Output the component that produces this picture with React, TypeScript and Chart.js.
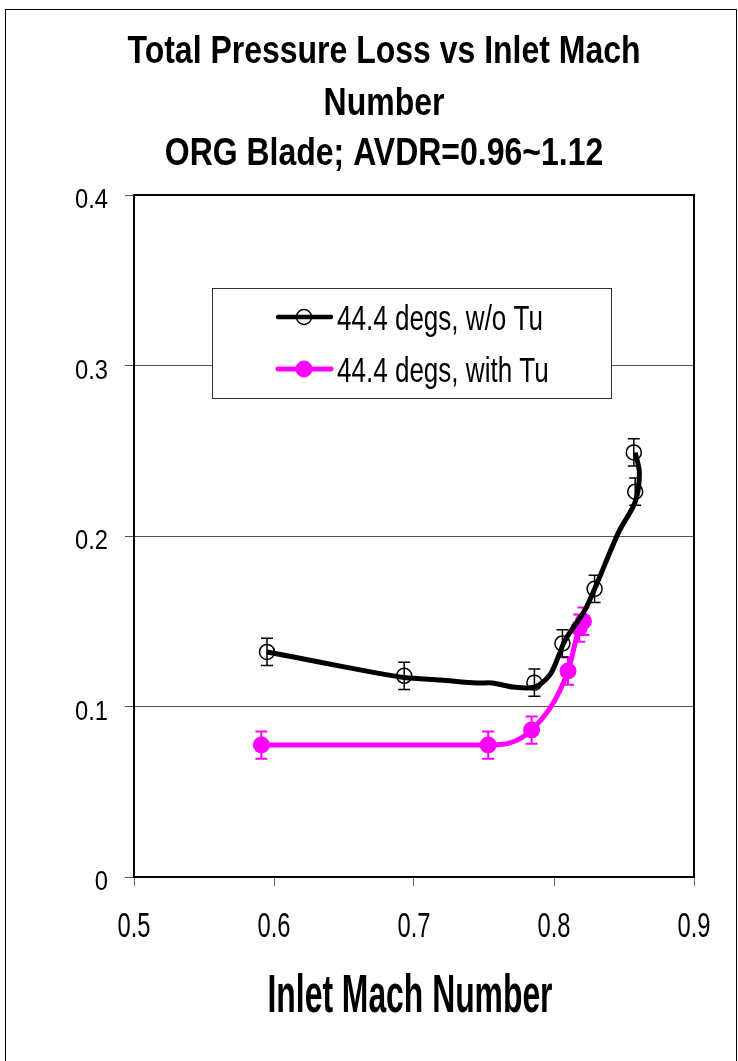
import React, { useEffect, useRef } from "react";
import { Chart, registerables } from "chart.js";

Chart.register(...registerables);

// ---------- data ----------
const titleLines = ["Total Pressure Loss vs Inlet Mach", "Number", "ORG Blade; AVDR=0.96~1.12"];
const xAxisTitle = "Inlet Mach Number";
const xTicks = [0.5, 0.6, 0.7, 0.8, 0.9];
const yTicks = [0, 0.1, 0.2, 0.3, 0.4];
const xTickLabels = ["0.5", "0.6", "0.7", "0.8", "0.9"];
const yTickLabels = ["0", "0.1", "0.2", "0.3", "0.4"];
const seriesNames = ["44.4 degs, w/o Tu", "44.4 degs, with Tu"];

// measured points, without turbulence grid
const woTuMach = [0.595, 0.693, 0.786, 0.806, 0.829, 0.858, 0.857];
const woTuLoss = [0.132, 0.118, 0.114, 0.137, 0.169, 0.226, 0.249];
// smoothed trend line of the same series
const woTuCurveMach = [0.595, 0.633, 0.671, 0.693, 0.719, 0.745, 0.756, 0.771, 0.786, 0.797, 0.803, 0.808, 0.823, 0.846, 0.858, 0.861, 0.858];
const woTuCurveLoss = [0.132, 0.126, 0.120, 0.117, 0.1155, 0.1138, 0.1138, 0.1114, 0.1114, 0.1185, 0.129, 0.139, 0.158, 0.202, 0.220, 0.237, 0.249];

// measured points, with turbulence grid
const withTuMach = [0.591, 0.753, 0.784, 0.810, 0.818, 0.821];
const withTuLoss = [0.0774, 0.0774, 0.0862, 0.1208, 0.146, 0.150];

const errorHalf = 0.008;

// ---------- styles ----------
const FONT = "'Liberation Sans', Arial, sans-serif";
const BLACK = "#000000";
const MAGENTA = "#FF00FF";

const toPts = (xs: number[], ys: number[]) => xs.map((x, i) => ({ x, y: ys[i] }));

// draws text with a given cap height, horizontally compressed so that `refText` is `refWidth` wide
function fitScale(ctx: any, refText: string, capH: number, bold: boolean, refWidth: number) {
  const size = capH / 0.716;
  ctx.font = `${bold ? "bold " : ""}${size}px ${FONT}`;
  const w = ctx.measureText(refText).width;
  return { size, sx: refWidth / w };
}
function drawText(ctx: any, text: string, x: number, baseline: number, size: number, sx: number, bold: boolean, align: string) {
  ctx.save();
  ctx.font = `${bold ? "bold " : ""}${size}px ${FONT}`;
  ctx.translate(x, baseline);
  ctx.scale(sx, 1);
  ctx.textAlign = align;
  ctx.textBaseline = "alphabetic";
  ctx.fillStyle = "#000";
  ctx.fillText(text, 0, 0);
  ctx.restore();
}

const decorPlugin = {
  id: "decor",
  beforeDraw(chart: any) {
    const ctx = chart.ctx;
    ctx.save();
    ctx.fillStyle = "#ffffff";
    ctx.fillRect(0, 0, chart.width, chart.height);
    ctx.strokeStyle = "#000";
    ctx.lineWidth = 1;
    ctx.strokeRect(5.5, 9.5, 731, 1080);
    ctx.restore();

    // chart title
    const t = fitScale(ctx, titleLines[0], 28, true, 513);
    const baselines = [63, 115, 165];
    titleLines.forEach((line, i) => drawText(ctx, line, 384, baselines[i], t.size, t.sx, true, "center"));

    // x axis title
    const xt = fitScale(ctx, xAxisTitle, 38, true, 285);
    drawText(ctx, xAxisTitle, 410, 1012, xt.size, xt.sx, true, "center");
  },
  beforeDatasetsDraw(chart: any) {
    const { ctx, chartArea: a } = chart;
    ctx.save();
    ctx.strokeStyle = "#000";
    ctx.lineWidth = 2;
    ctx.strokeRect(a.left, a.top, a.right - a.left, a.bottom - a.top);
    ctx.restore();

    // tick labels, positioned by the chart's own scales
    const xs = chart.scales.x;
    const ys = chart.scales.y;
    const xf = fitScale(ctx, "0.9", 25, false, 33);
    xTicks.forEach((v, i) => drawText(ctx, xTickLabels[i], xs.getPixelForValue(v), a.bottom + 60, xf.size, xf.sx, false, "center"));
    const yf = fitScale(ctx, "0.4", 20, false, 33);
    yTicks.forEach((v, i) => drawText(ctx, yTickLabels[i], 108, ys.getPixelForValue(v) + 13, yf.size, yf.sx, false, "right"));
  },
  afterDatasetDraw(chart: any, args: any) {
    const ds: any = chart.data.datasets[args.index];
    if (!ds.errorBar) return;
    const { ctx } = chart;
    const xs = chart.scales.x;
    const ys = chart.scales.y;
    ctx.save();
    ctx.strokeStyle = ds.errorBar.color;
    ctx.lineWidth = ds.errorBar.width;
    ds.data.forEach((p: any) => {
      const px = xs.getPixelForValue(p.x);
      const top = ys.getPixelForValue(p.y + errorHalf);
      const bot = ys.getPixelForValue(p.y - errorHalf);
      ctx.beginPath();
      ctx.moveTo(px, top);
      ctx.lineTo(px, bot);
      ctx.moveTo(px - 6, top);
      ctx.lineTo(px + 6, top);
      ctx.moveTo(px - 6, bot);
      ctx.lineTo(px + 6, bot);
      ctx.stroke();
    });
    ctx.restore();
  },
  afterDraw(chart: any) {
    const { ctx } = chart;
    ctx.save();
    const bx = 212.5, by = 288.5, bw = 399, bh = 110;
    ctx.fillStyle = "#fff";
    ctx.fillRect(bx, by, bw, bh);
    ctx.strokeStyle = "#333";
    ctx.lineWidth = 1;
    ctx.strokeRect(bx, by, bw, bh);
    const rows = [
      { y: 317, color: BLACK, lw: 4.5, filled: false, r: 7.5 },
      { y: 369, color: MAGENTA, lw: 5, filled: true, r: 8.5 },
    ];
    const lf = fitScale(ctx, seriesNames[0], 25, false, 206);
    rows.forEach((row, i) => {
      ctx.strokeStyle = row.color;
      ctx.lineWidth = row.lw;
      ctx.lineCap = "round";
      ctx.beginPath();
      ctx.moveTo(278, row.y);
      ctx.lineTo(331, row.y);
      ctx.stroke();
      ctx.beginPath();
      ctx.arc(304, row.y, row.r, 0, Math.PI * 2);
      if (row.filled) {
        ctx.fillStyle = row.color;
        ctx.fill();
      } else {
        ctx.lineWidth = 1.5;
        ctx.stroke();
      }
      drawText(ctx, seriesNames[i], 337, row.y + 12.5, lf.size, lf.sx, false, "left");
    });
    ctx.restore();
  },
};

export default function App() {
  const ref = useRef<HTMLCanvasElement | null>(null);
  useEffect(() => {
    if (!ref.current) return;
    const chart = new Chart(ref.current, {
      type: "line",
      data: {
        datasets: [
          {
            label: seriesNames[0] + " trend",
            data: toPts(woTuCurveMach, woTuCurveLoss),
            borderColor: BLACK,
            borderWidth: 5,
            pointRadius: 0,
            tension: 0.3,
            fill: false,
          },
          {
            label: seriesNames[0],
            data: toPts(woTuMach, woTuLoss),
            showLine: false,
            pointRadius: 7.5,
            pointBorderWidth: 1.5,
            pointBorderColor: BLACK,
            pointBackgroundColor: "rgba(0,0,0,0)",
            borderColor: BLACK,
            errorBar: { color: BLACK, width: 1.5 },
          } as any,
          {
            label: seriesNames[1],
            data: toPts(withTuMach, withTuLoss),
            borderColor: MAGENTA,
            borderWidth: 5,
            cubicInterpolationMode: "monotone",
            pointRadius: 8.5,
            pointBorderWidth: 0,
            pointBackgroundColor: MAGENTA,
            pointBorderColor: MAGENTA,
            fill: false,
            errorBar: { color: MAGENTA, width: 2 },
          } as any,
        ],
      },
      options: {
        animation: false,
        responsive: false,
        devicePixelRatio: 1,
        layout: { padding: { top: 195, right: 44, left: 0, bottom: 0 } },
        plugins: {
          legend: { display: false },
          title: { display: false },
          tooltip: { enabled: false },
        },
        scales: {
          x: {
            type: "linear",
            min: 0.5,
            max: 0.9,
            afterBuildTicks: (s: any) => {
              s.ticks = xTicks.map((v) => ({ value: v }));
            },
            afterFit: (s: any) => {
              s.height = 184;
            },
            ticks: { display: false },
            grid: { drawOnChartArea: false, drawTicks: true, tickLength: 9, color: "#666", lineWidth: 1 },
            border: { display: false },
          },
          y: {
            type: "linear",
            min: 0,
            max: 0.4,
            afterBuildTicks: (s: any) => {
              s.ticks = yTicks.map((v) => ({ value: v }));
            },
            afterFit: (s: any) => {
              s.width = 134;
            },
            ticks: { display: false },
            grid: { drawOnChartArea: true, drawTicks: true, tickLength: 9, color: "#555", lineWidth: 1 },
            border: { display: false },
          },
        },
      },
      plugins: [decorPlugin],
    } as any);
    return () => chart.destroy();
  }, []);
  return (
    <div style={{ position: "absolute", left: 0, top: 0, width: 738, height: 1061 }}>
      <canvas ref={ref} width={738} height={1061} style={{ display: "block" }} />
    </div>
  );
}
